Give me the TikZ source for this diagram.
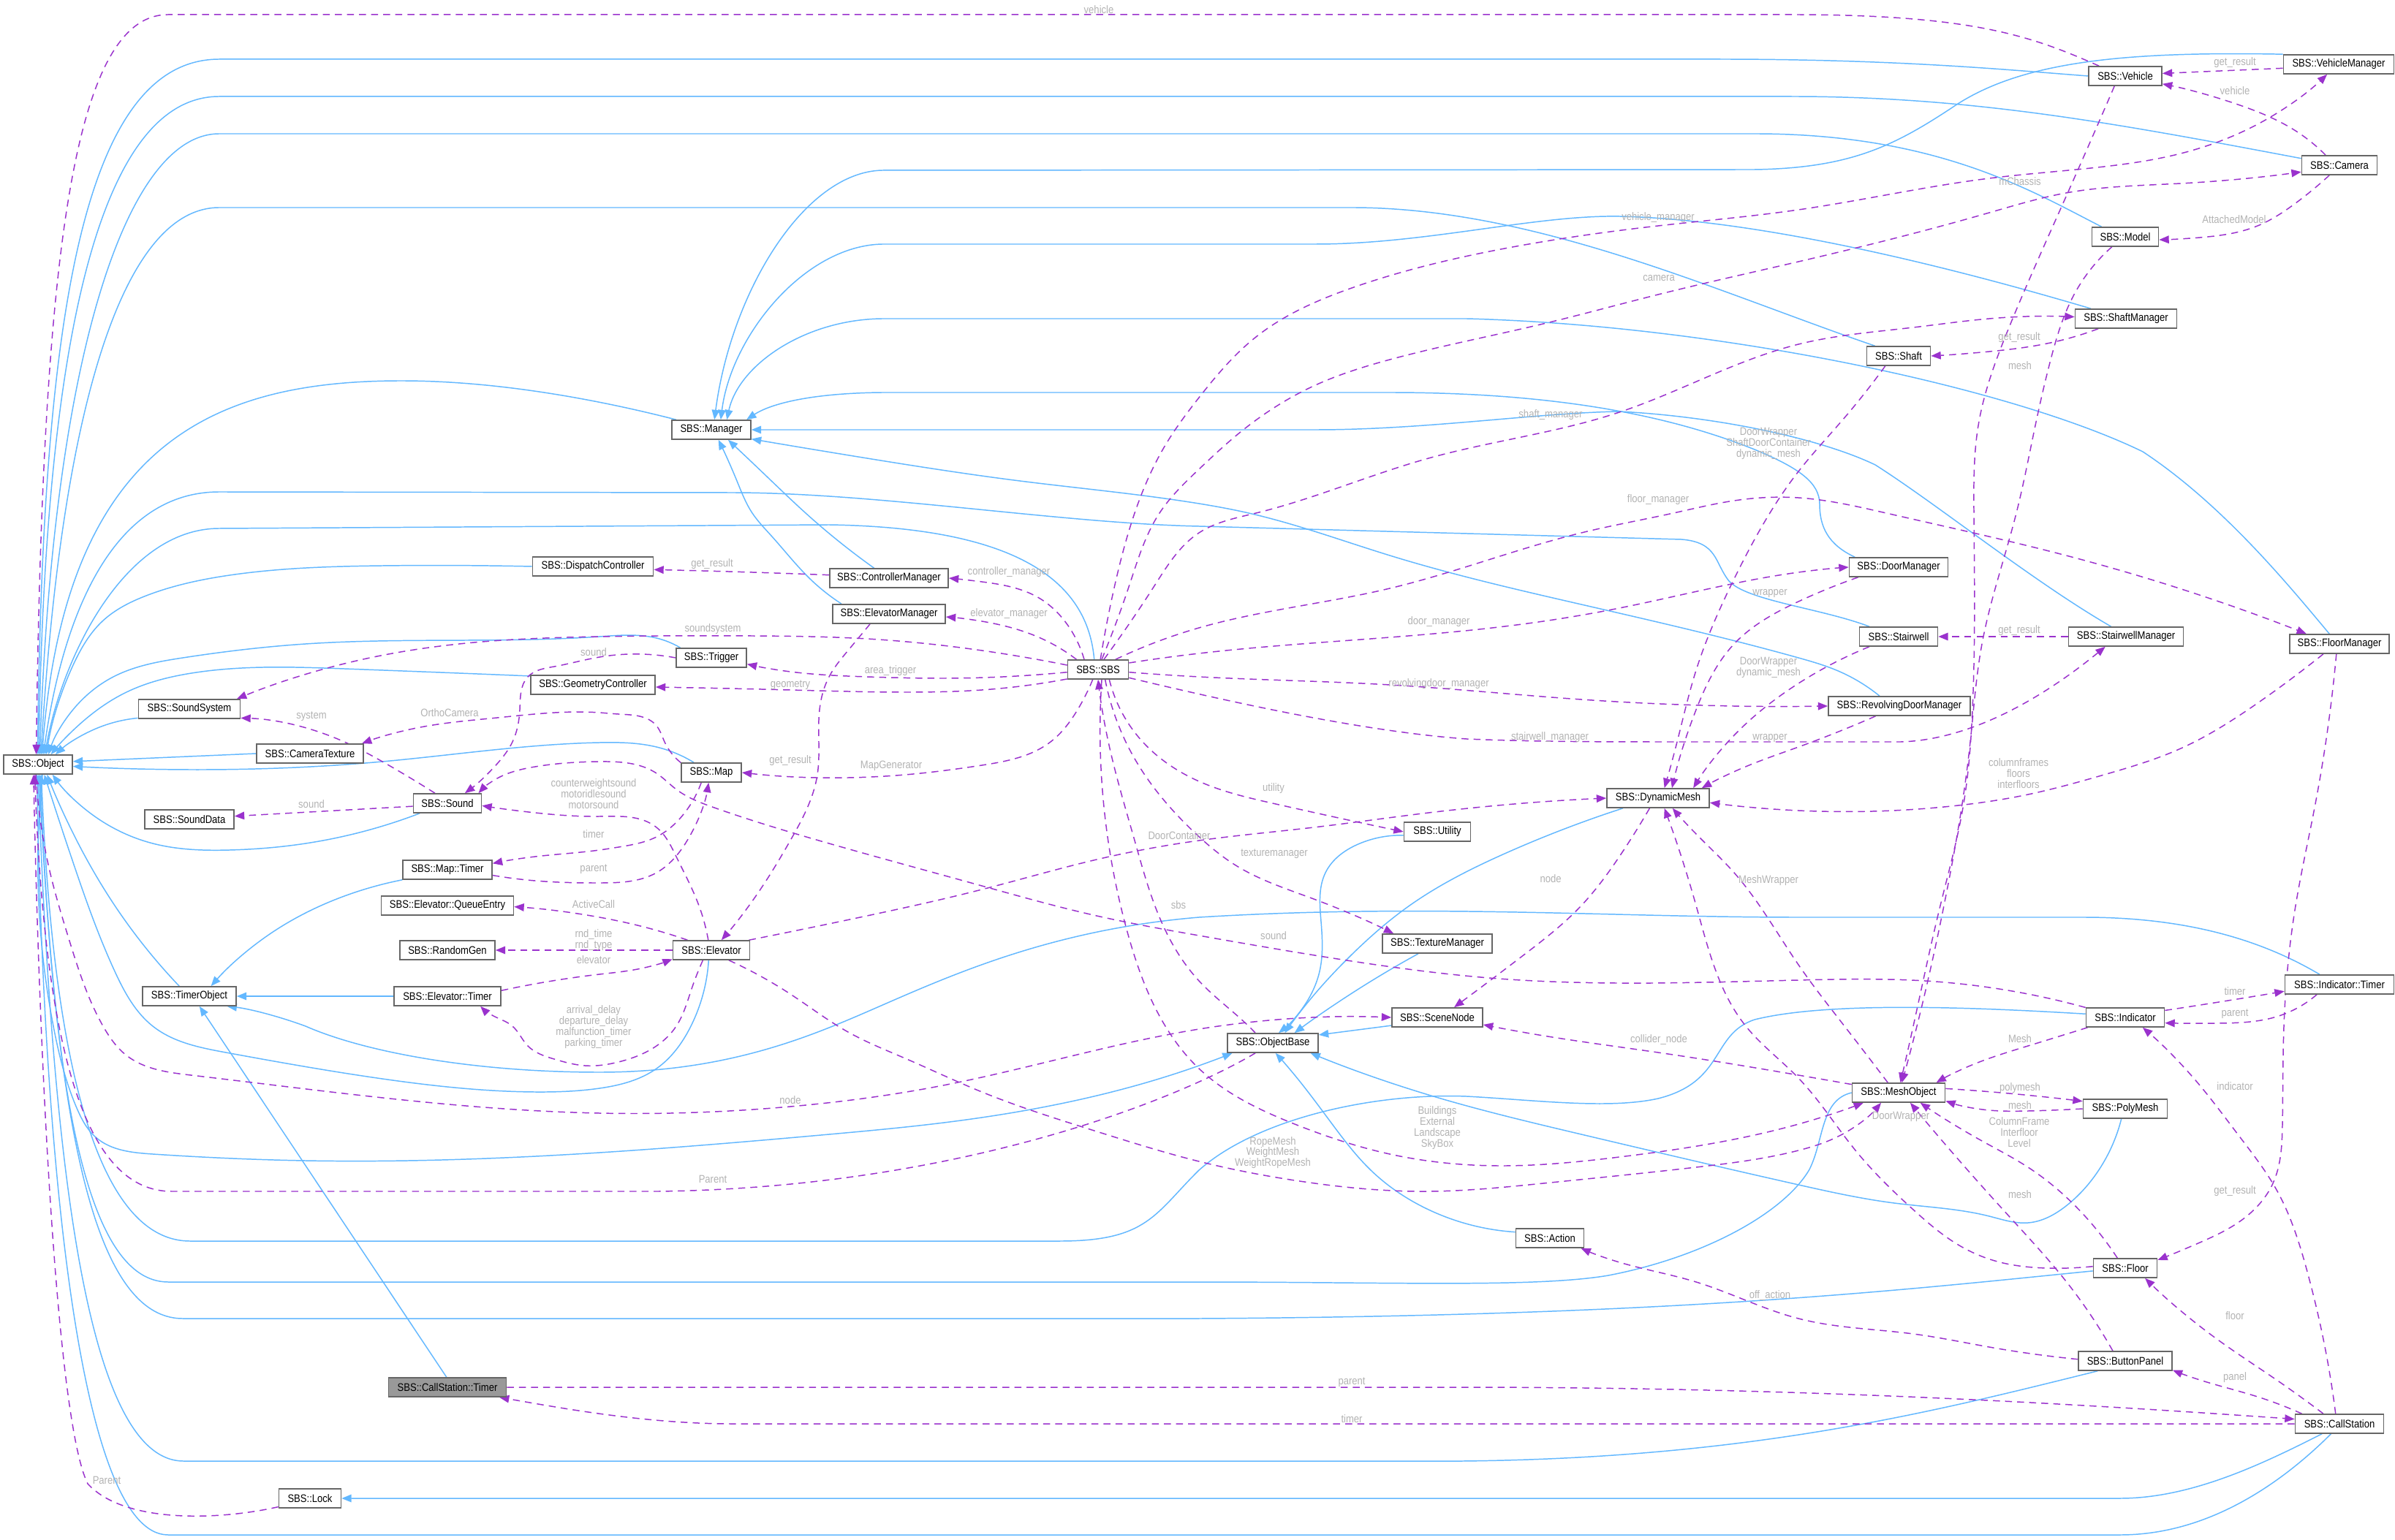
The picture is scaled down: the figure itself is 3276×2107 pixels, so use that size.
\documentclass[tikz,border=0pt]{standalone}
\usepackage{fontspec}
\setmainfont{Liberation Sans}[FakeStretch=0.87]
\usetikzlibrary{arrows.meta,backgrounds,hobby}
\definecolor{inhblue}{HTML}{63B8FF}
\definecolor{usepurple}{HTML}{9A32CD}
\definecolor{lblgray}{HTML}{B3B3B3}
\definecolor{nodeborder}{HTML}{666666}
\definecolor{grayfill}{HTML}{999999}
\newcommand{\dfont}{\fontsize{4.27pt}{4.21pt}\selectfont}
\begin{document}
\begin{tikzpicture}[x=0.01cm,y=-0.01cm,
 classbox/.style={draw=nodeborder, fill=white, line width=0.45pt, minimum height=0.26cm, inner sep=0pt, font=\dfont},
 inhline/.style={draw=inhblue, line width=0.42pt, -{Triangle[length=3.8pt,width=3pt]}},
 useline/.style={draw=usepurple, line width=0.42pt, dash pattern=on 2.7pt off 2pt, -{Triangle[length=3.8pt,width=3pt]}},
 ih/.style={inhline, use Hobby shortcut},
 uh/.style={useline, use Hobby shortcut},
 edgelabel/.style={text=lblgray, font=\dfont, align=center, inner sep=0pt}]
\useasboundingbox (0,0) rectangle (3276,2107);
% nodes
\node[classbox,minimum width=0.94cm] (object) at (52,1046) {SBS::Object};
\node[classbox,minimum width=1.08cm] (manager) at (973,588) {SBS::Manager};
\node[classbox,minimum width=1.00cm] (vehicle) at (2907,104) {SBS::Vehicle};
\node[classbox,minimum width=1.51cm] (vehiclemgr) at (3199,88) {SBS::VehicleManager};
\node[classbox,minimum width=1.03cm] (camera) at (3200,226) {SBS::Camera};
\node[classbox,minimum width=0.91cm] (model) at (2907,324) {SBS::Model};
\node[classbox,minimum width=1.39cm] (shaftmgr) at (2908,436) {SBS::ShaftManager};
\node[classbox,minimum width=0.87cm] (shaft) at (2597,487) {SBS::Shaft};
\node[classbox,minimum width=1.65cm] (dispatch) at (811,775) {SBS::DispatchController};
\node[classbox,minimum width=1.70cm] (geometry) at (811,937) {SBS::GeometryController};
\node[classbox,minimum width=1.39cm] (soundsystem) at (259,970) {SBS::SoundSystem};
\node[classbox,minimum width=1.46cm] (cameratex) at (424,1031) {SBS::CameraTexture};
\node[classbox,minimum width=0.93cm] (sound) at (612,1099) {SBS::Sound};
\node[classbox,minimum width=1.22cm] (sounddata) at (259,1121) {SBS::SoundData};
\node[classbox,minimum width=1.22cm] (maptimer) at (612,1190) {SBS::Map::Timer};
\node[classbox,minimum width=1.81cm] (queueentry) at (612,1239) {SBS::Elevator::QueueEntry};
\node[classbox,minimum width=1.30cm] (randomgen) at (612,1300) {SBS::RandomGen};
\node[classbox,minimum width=1.28cm] (timerobj) at (259,1363) {SBS::TimerObject};
\node[classbox,minimum width=1.46cm] (elevtimer) at (612,1363) {SBS::Elevator::Timer};
\node[classbox,minimum width=1.62cm] (ctrlmgr) at (1216,791) {SBS::ControllerManager};
\node[classbox,minimum width=1.54cm] (elevmgr) at (1216,840) {SBS::ElevatorManager};
\node[classbox,minimum width=0.96cm] (trigger) at (973,900) {SBS::Trigger};
\node[classbox,minimum width=0.83cm] (sbs) at (1502,916) {SBS::SBS};
\node[classbox,minimum width=0.82cm] (map) at (973,1057) {SBS::Map};
\node[classbox,minimum width=1.05cm] (elevator) at (973,1300) {SBS::Elevator};
\node[classbox,minimum width=1.40cm] (dynmesh) at (2268,1092) {SBS::DynamicMesh};
\node[classbox,minimum width=0.91cm] (utility) at (1966,1138) {SBS::Utility};
\node[classbox,minimum width=1.50cm] (texmgr) at (1966,1291) {SBS::TextureManager};
\node[classbox,minimum width=1.24cm] (scenenode) at (1966,1392) {SBS::SceneNode};
\node[classbox,minimum width=1.35cm] (doormgr) at (2597,776) {SBS::DoorManager};
\node[classbox,minimum width=1.07cm] (stairwell) at (2597,871) {SBS::Stairwell};
\node[classbox,minimum width=1.57cm] (stairwellmgr) at (2908,871) {SBS::StairwellManager};
\node[classbox,minimum width=1.36cm] (floormgr) at (3200,881) {SBS::FloorManager};
\node[classbox,minimum width=1.94cm] (revdoormgr) at (2598,966) {SBS::RevolvingDoorManager};
\node[classbox,minimum width=1.49cm] (indtimer) at (3200,1347) {SBS::Indicator::Timer};
\node[classbox,minimum width=1.07cm] (indicator) at (2907,1392) {SBS::Indicator};
\node[classbox,minimum width=1.24cm] (objectbase) at (1741,1427) {SBS::ObjectBase};
\node[classbox,minimum width=0.93cm] (action) at (2120,1694) {SBS::Action};
\node[classbox,minimum width=1.27cm] (meshobj) at (2597,1495) {SBS::MeshObject};
\node[classbox,minimum width=1.15cm] (polymesh) at (2907,1517) {SBS::PolyMesh};
\node[classbox,minimum width=0.87cm] (floor) at (2907,1735) {SBS::Floor};
\node[classbox,minimum width=1.28cm] (buttonpanel) at (2907,1862) {SBS::ButtonPanel};
\node[classbox,minimum width=1.21cm] (callstation) at (3200,1948) {SBS::CallStation};
\node[classbox,minimum width=1.61cm,fill=grayfill] (cstimer) at (612,1898) {SBS::CallStation::Timer};
\node[classbox,minimum width=0.85cm] (lock) at (424,2050) {SBS::Lock};

\begin{pgfonlayer}{background}
\fill[white] (0,0) rectangle (3276,2107);
% ---------- inheritance: into Object (top)
\draw[inhline] (vehicle.west) .. controls (2750,96) and (2600,81) .. (2350,81) -- (300,81) .. controls (110,81) and (58,450) .. (object.92);
\draw[inhline] (camera.170) .. controls (2900,170) and (2700,132) .. (2450,132) -- (300,132) .. controls (140,132) and (62,450) .. (object.86);
\draw[inhline] (model.157) .. controls (2780,262) and (2650,183) .. (2400,183) -- (300,183) .. controls (170,183) and (72,500) .. (object.80);
\draw[inhline] (shaft.157) .. controls (2350,400) and (2100,284) .. (1849,284) -- (300,284) .. controls (170,284) and (85,550) .. (object.74);
\draw[inhline] (manager.164) .. controls (850,555) and (700,521) .. (549,521) .. controls (300,521) and (90,600) .. (object.68);
\draw[inhline] (stairwell.161) .. controls (2490,832) and (2390,822) .. (2365,795) .. controls (2345,770) and (2350,742) .. (2300,738) -- (1640,720) .. controls (1450,716) and (1200,674) .. (1000,674) -- (300,673) .. controls (150,673) and (85,850) .. (object.62);
\draw[inhline] (sbs.111) .. controls (1488,800) and (1400,722) .. (1134,718) -- (300,723) .. controls (170,723) and (85,900) .. (object.56);
\draw[ih] (dispatch.west) .. (523,774) .. (314,787) .. (200,815) .. (140,850) .. (100,910) .. (object.50);
\draw[ih] (trigger.162) .. (898,873) .. (820,871) .. (418,881) .. (250,900) .. (157,925) .. (105,965) .. (object.44);
\draw[ih] (geometry.172) .. (471,915) .. (262,921) .. (173,947) .. (110,990) .. (object.38);
\draw[ih] (soundsystem.-170) .. (131,997) .. (object.30);
\draw[inhline] (cameratex.west) -- (object.5);
\draw[ih] (map.150) .. (898,1022) .. (820,1016) .. (523,1042) .. (262,1053) .. (object.-3);
% into Object (bottom)
\draw[ih] (sound.-160) .. (418,1154) .. (314,1163) .. (209,1154) .. (131,1118) .. (object.-35);
\draw[ih] (timerobj.135) .. (157,1239) .. (105,1150) .. (object.-48);
\draw[ih] (elevator.-105) .. (945,1404) .. (898,1462) .. (820,1489) .. (732,1494) .. (523,1476) .. (309,1440) .. (209,1404) .. (157,1329) .. (100,1180) .. (object.-58);
\draw[inhline] (indicator.175) .. controls (2700,1378) and (2500,1370) .. (2400,1395) .. controls (2340,1415) and (2360,1480) .. (2268,1503) .. controls (2200,1518) and (2100,1505) .. (2006,1500) .. controls (1880,1495) and (1720,1530) .. (1640,1601) .. controls (1580,1660) and (1570,1698) .. (1450,1698) -- (260,1698) .. controls (120,1698) and (70,1400) .. (object.-72);
\draw[inhline] (meshobj.west) .. controls (2490,1505) and (2495,1560) .. (2475,1600) .. controls (2440,1660) and (2330,1720) .. (2200,1745) .. controls (2100,1762) and (1900,1754) .. (1640,1754) -- (230,1754) .. controls (120,1754) and (72,1500) .. (object.-78);
\draw[inhline] (floor.-175) .. controls (2600,1765) and (2300,1800) .. (1640,1804) -- (250,1804) .. controls (120,1804) and (75,1500) .. (object.-84);
\draw[inhline] (buttonpanel.-160) .. controls (2650,1930) and (2400,1995) .. (2000,1999) -- (251,1999) .. controls (120,1999) and (72,1600) .. (object.-90);
\draw[inhline] (callstation.-130) .. controls (3120,2030) and (3020,2100) .. (2900,2100) -- (230,2100) .. controls (110,2100) and (60,1600) .. (object.-96);
\draw[inhline] (callstation.-150) .. controls (3100,2000) and (3000,2050) .. (2900,2050) -- (lock.east);
\draw[ih] (object.-66) .. (73,1404) .. (105,1516) .. (131,1556) .. (209,1579) .. (418,1588) .. (820,1577) .. (1134,1552) .. (1291,1536) .. (1640,1458) .. (objectbase.-166);
% into Manager
\draw[inhline] (vehiclemgr.north west) .. controls (2900,70) and (2760,85) .. (2669,148) .. controls (2590,200) and (2530,230) .. (2400,232) -- (1207,233) .. controls (1100,235) and (1000,400) .. (manager.73);
\draw[inhline] (shaftmgr.164) .. controls (2650,360) and (2400,300) .. (2215,296) .. controls (2100,294) and (1950,334) .. (1800,334) -- (1207,334) .. controls (1100,336) and (1000,460) .. (manager.47);
\draw[inhline] (floormgr.135) .. controls (3130,800) and (3040,690) .. (2931,618) .. controls (2750,530) and (2350,445) .. (2006,436) -- (1207,436) .. controls (1100,437) and (1010,500) .. (manager.33);
\draw[inhline] (doormgr.167) .. controls (2500,745) and (2489,720) .. (2489,690) .. controls (2489,660) and (2460,640) .. (2400,615) .. controls (2300,575) and (2150,537) .. (1900,537) -- (1207,537) .. controls (1100,538) and (1050,555) .. (manager.16);
\draw[inhline] (stairwellmgr.146) .. controls (2780,795) and (2650,690) .. (2565,636) .. controls (2490,600) and (2350,570) .. (2215,563) .. controls (2100,565) and (1950,588) .. (1800,588) -- (manager.east);
\draw[ih] (revdoormgr.153) .. (2512,917) .. (2460,900) .. (2163,827) .. (1901,760) .. (1708,702) .. (1640,689) .. (1395,658) .. (1186,627) .. (manager.-13);
\draw[ih] (elevmgr.168) .. (1108,792) .. (1055,733) .. (1029,702) .. (1008,658) .. (manager.-55);
\draw[ih] (ctrlmgr.146) .. (1102,702) .. (1050,653) .. (manager.-31);
% into TimerObject
\draw[inhline] (elevtimer.west) -- (timerobj.east);
\draw[ih] (maptimer.south west) .. (471,1226) .. (366,1280) .. (timerobj.25);
\draw[inhline] (cstimer.95) -- (timerobj.-45);
\draw[inhline] (indtimer.153) .. controls (3100,1290) and (3000,1255) .. (2850,1255) -- (2460,1255) .. controls (2200,1255) and (1950,1236) .. (1640,1255) .. controls (1400,1275) and (1250,1360) .. (1139,1404) .. controls (1050,1440) and (950,1467) .. (820,1467) .. controls (650,1467) and (500,1440) .. (418,1404) .. controls (380,1390) and (340,1380) .. (timerobj.-15);
% into ObjectBase
\draw[ih] (dynmesh.-164) .. (2058,1168) .. (1928,1239) .. (1849,1306) .. (1790,1370) .. (objectbase.40);
\draw[ih] (utility.-174) .. (1860,1154) .. (1813,1194) .. (1807,1261) .. (1805,1329) .. (1786,1373) .. (objectbase.60);
\draw[ih] (texmgr.-152) .. (1860,1352) .. (objectbase.25);
\draw[inhline] (scenenode.-170) -- (objectbase.10);
\draw[ih] (action.170) .. (1954,1655) .. (1875,1601) .. (1823,1539) .. (1771,1471) .. (objectbase.-75);
\draw[ih] (polymesh.-111) .. (2868,1605) .. (2826,1650) .. (2774,1673) .. (2721,1664) .. (2591,1646) .. (2460,1621) .. (2163,1552) .. (1954,1498) .. (objectbase.-15);
% ---------- usage (dashed)
\draw[useline] (vehicle.159) .. controls (2780,50) and (2700,20) .. (2450,20) -- (230,20) .. controls (100,20) and (58,350) .. (object.100);
\draw[useline] (vehiclemgr.-176) -- (vehicle.4);
\draw[uh] (camera.144) .. (3140,179) .. (3061,143) .. (vehicle.-12);
\draw[uh] (camera.-135) .. (3140,278) .. (3088,309) .. (3009,325) .. (model.-5);
\draw[uh] (sbs.77) .. (1525,800) .. (1552,702) .. (1594,609) .. (1640,544) .. (1718,461) .. (1849,394) .. (2058,340) .. (2268,309) .. (2460,287) .. (2721,244) .. (2878,228) .. (2983,210) .. (3088,170) .. (vehiclemgr.-139);
\draw[uh] (sbs.70) .. (1545,800) .. (1586,702) .. (1640,642) .. (1692,595) .. (1797,528) .. (1901,492) .. (2111,443) .. (2268,403) .. (2460,358) .. (2721,291) .. (2826,264) .. (2983,251) .. (camera.-170);
\draw[uh] (sbs.60) .. (1580,800) .. (1640,729) .. (1718,702) .. (1954,627) .. (2215,564) .. (2460,471) .. (2617,448) .. (2721,436) .. (shaftmgr.178);
\draw[uh] (shaftmgr.-160) .. (2800,470) .. (2721,481) .. (shaft.east);
\draw[uh] (vehicle.-137) .. (2826,269) .. (2748,448) .. (2706,582) .. (2700,702) .. (2698,971) .. (2685,1105) .. (2654,1239) .. (2617,1404) .. (meshobj.80);
\draw[uh] (model.-143) .. (2837,403) .. (2805,492) .. (2784,582) .. (2758,702) .. (2711,881) .. (2695,1015) .. (2659,1239) .. (2622,1404) .. (meshobj.72);
\draw[uh] (shaft.-143) .. (2520,575) .. (2460,645) .. (2419,705) .. (2372,792) .. (2320,917) .. (2294,1015) .. (dynmesh.58);
\draw[uh] (sbs.30) .. (1640,859) .. (1901,805) .. (2163,729) .. (2289,702) .. (2372,685) .. (2460,681) .. (2580,702) .. (2826,760) .. (3035,823) .. (floormgr.163);
\draw[uh] (sbs.12) .. (1640,894) .. (1901,872) .. (2111,850) .. (2215,832) .. (2460,783) .. (doormgr.west);
\draw[uh] (doormgr.-166) .. (2460,823) .. (2372,881) .. (2320,971) .. (dynmesh.36);
\draw[useline] (stairwellmgr.west) -- (stairwell.east);
\draw[uh] (stairwell.-161) .. (2460,935) .. (2372,1006) .. (dynmesh.16);
\draw[uh] (sbs.-5) .. (1640,926) .. (1901,937) .. (2163,957) .. (revdoormgr.west);
\draw[uh] (revdoormgr.-157) .. (2460,1022) .. (2390,1048) .. (dynmesh.13);
\draw[useline] (sbs.-15) .. controls (1640,950) and (1850,1000) .. (2006,1011) .. controls (2100,1015) and (2200,1015) .. (2300,1015) -- (2600,1015) .. controls (2700,1012) and (2800,950) .. (stairwellmgr.-154);
\draw[uh] (floormgr.-148) .. (3088,962) .. (2983,1024) .. (2878,1060) .. (2774,1087) .. (2669,1103) .. (2460,1109) .. (dynmesh.-5);
\draw[uh] (floormgr.-107) .. (3166,1105) .. (3140,1239) .. (3124,1404) .. (3122,1538) .. (3109,1619) .. (3061,1673) .. (3009,1700) .. (floor.14);
\draw[uh] (sbs.144) .. (1463,859) .. (1421,818) .. (1343,796) .. (ctrlmgr.east);
\draw[uh] (sbs.155) .. (1421,872) .. (1343,850) .. (elevmgr.-3);
\draw[uh] (sbs.172) .. (1343,890) .. (1186,874) .. (1029,870) .. (820,871) .. (628,881) .. (471,908) .. (soundsystem.12);
\draw[uh] (sbs.-175) .. (1291,928) .. (1186,926) .. (1081,919) .. (trigger.-10);
\draw[uh] (sbs.-163) .. (1343,944) .. (1238,947) .. (1081,944) .. (geometry.-2);
\draw[uh] (sbs.-118) .. (1474,971) .. (1437,1015) .. (1343,1047) .. (1238,1060) .. (map.east);
\draw[uh] (ctrlmgr.177) .. (1029,783) .. (dispatch.-3);
\draw[uh] (elevmgr.-152) .. (1160,890) .. (1134,926) .. (1121,971) .. (1118,1060) .. (1081,1150) .. (1040,1217) .. (elevator.45);
\draw[uh] (trigger.west) .. (820,899) .. (758,912) .. (722,926) .. (711,971) .. (701,1015) .. (680,1045) .. (sound.30);
\draw[uh] (map.162) .. (909,1015) .. (898,993) .. (846,977) .. (820,975) .. (680,982) .. (575,995) .. (cameratex.11);
\draw[uh] (sound.141) .. (523,1042) .. (471,1015) .. (soundsystem.-10);
\draw[useline] (sound.-175) -- (sounddata.4);
\draw[uh] (elevator.107) .. (956,1239) .. (925,1172) .. (898,1132) .. (820,1117) .. (732,1112) .. (sound.-4);
\draw[uh] (map.-135) .. (935,1114) .. (898,1145) .. (846,1159) .. (820,1163) .. (732,1172) .. (maptimer.8);
\draw[uh] (maptimer.-7) .. (732,1205) .. (820,1208) .. (898,1194) .. (940,1150) .. (map.-105);
\draw[uh] (elevator.157) .. (872,1266) .. (820,1255) .. (queueentry.-1);
\draw[useline] (elevator.west) -- (randomgen.east);
\draw[uh] (elevtimer.6) .. (820,1333) .. (872,1326) .. (elevator.-167);
\draw[uh] (elevator.-130) .. (946,1353) .. (925,1404) .. (898,1431) .. (846,1453) .. (800,1458) .. (758,1449) .. (722,1431) .. (701,1404) .. (675,1390) .. (elevtimer.-17);
\draw[uh] (elevator.15) .. (1186,1253) .. (1343,1217) .. (1500,1176) .. (1640,1150) .. (1797,1132) .. (1954,1112) .. (dynmesh.west);
\draw[uh] (indicator.166) .. (2633,1342) .. (2460,1341) .. (2037,1338) .. (1849,1315) .. (1640,1280) .. (1500,1253) .. (1343,1212) .. (1134,1154) .. (977,1105) .. (925,1080) .. (898,1058) .. (820,1042) .. (732,1049) .. (680,1065) .. (sound.18);
\draw[uh] (sbs.-42) .. (1563,1015) .. (1640,1069) .. (1745,1100) .. (1849,1123) .. (utility.west);
\draw[uh] (sbs.-55) .. (1552,1038) .. (1636,1141) .. (1692,1185) .. (1797,1230) .. (texmgr.167);
\draw[uh] (dynmesh.-130) .. (2215,1172) .. (2163,1239) .. (2085,1306) .. (scenenode.31);
\draw[uh] (meshobj.137) .. (2523,1404) .. (2460,1320) .. (2372,1194) .. (2320,1141) .. (dynmesh.-35);
\draw[uh] (floor.177) .. (2800,1735) .. (2732,1726) .. (2680,1704) .. (2617,1655) .. (2538,1574) .. (2460,1475) .. (2388,1404) .. (2320,1239) .. (dynmesh.-58);
\draw[uh] (objectbase.150) .. (1708,1404) .. (1640,1342) .. (1589,1262) .. (1552,1150) .. (1516,1015) .. (sbs.-90);
\draw[uh] (sbs.-70) .. (1542,1275) .. (1594,1404) .. (1640,1462) .. (1771,1538) .. (1901,1579) .. (2058,1595) .. (2215,1583) .. (2460,1538) .. (meshobj.-164);
\draw[uh] (elevator.-30) .. (1081,1360) .. (1160,1412) .. (1238,1448) .. (1343,1494) .. (1500,1548) .. (1640,1589) .. (1771,1615) .. (1954,1630) .. (2111,1619) .. (2320,1597) .. (2460,1574) .. (2512,1556) .. (meshobj.-150);
\draw[useline] (objectbase.-150) .. controls (1600,1510) and (1300,1625) .. (900,1630) -- (235,1630) .. controls (120,1630) and (62,1450) .. (object.-108);
\draw[uh] (object.-102) .. (70,1200) .. (94,1284) .. (141,1404) .. (173,1444) .. (261,1471) .. (820,1523) .. (1081,1514) .. (1290,1485) .. (1640,1408) .. (scenenode.west);
\draw[uh] (meshobj.170) .. (2460,1471) .. (2268,1440) .. (2111,1417) .. (scenenode.-9);
\draw[uh] (meshobj.5) .. (2748,1496) .. (polymesh.170);
\draw[uh] (polymesh.west) .. (2774,1520) .. (2721,1519) .. (meshobj.-10);
\draw[uh] (floor.128) .. (2852,1664) .. (2774,1597) .. (2711,1561) .. (meshobj.-25);
\draw[uh] (buttonpanel.141) .. (2826,1753) .. (2748,1664) .. (2695,1605) .. (meshobj.-41);
\draw[uh] (buttonpanel.178) .. (2721,1843) .. (2617,1825) .. (2460,1804) .. (2320,1754) .. (2215,1727) .. (action.-18);
\draw[uh] (indicator.-165) .. (2774,1431) .. (2695,1458) .. (meshobj.15);
\draw[uh] (indicator.10) .. (3035,1371) .. (indtimer.-173);
\draw[uh] (indtimer.-156) .. (3114,1391) .. (3035,1400) .. (indicator.-8);
\draw[uh] (callstation.111) .. (3182,1853) .. (3156,1740) .. (3114,1628) .. (3061,1552) .. (3009,1485) .. (indicator.-30);
\draw[uh] (callstation.148) .. (3114,1888) .. (3035,1834) .. (floor.-27);
\draw[uh] (callstation.165) .. (3088,1911) .. (3009,1888) .. (buttonpanel.-11);
\draw[useline] (cstimer.east) -- (2000,1898) .. controls (2500,1898) and (2900,1925) .. (callstation.174);
\draw[useline] (callstation.west) -- (1000,1948) .. controls (880,1948) and (760,1925) .. (cstimer.-11);
\draw[useline] (lock.-165) .. controls (300,2080) and (170,2085) .. (120,2030) .. controls (80,1950) and (55,1500) .. (object.-114);
\end{pgfonlayer}

% ---------- edge labels
\node[edgelabel] (l1) at (1503,13) {vehicle};
\node[edgelabel] (l2) at (3057,86) {get\_result};
\node[edgelabel] (l3) at (3057,124) {vehicle};
\node[edgelabel] (l4) at (3056,300) {AttachedModel};
\node[edgelabel] (l5) at (2763,248) {mChassis};
\node[edgelabel] (l6) at (2268,298) {vehicle\_manager};
\node[edgelabel] (l7) at (2269,381) {camera};
\node[edgelabel] (l8) at (2762,462) {get\_result};
\node[edgelabel] (l9) at (2763,500) {mesh};
\node[edgelabel] (l10) at (2121,568) {shaft\_manager};
\node[edgelabel] (l11) at (2419,607) {DoorWrapper\\ShaftDoorContainer\\dynamic\_mesh};
\node[edgelabel] (l12) at (2268,684) {floor\_manager};
\node[edgelabel] (l13) at (2421,812) {wrapper};
\node[edgelabel] (l14) at (1968,851) {door\_manager};
\node[edgelabel] (l15) at (2762,863) {get\_result};
\node[edgelabel] (l16) at (2419,913) {DoorWrapper\\dynamic\_mesh};
\node[edgelabel] (l17) at (1968,936) {revolvingdoor\_manager};
\node[edgelabel] (l18) at (2120,1009) {stairwell\_manager};
\node[edgelabel] (l19) at (2421,1010) {wrapper};
\node[edgelabel] (l20) at (2761,1058) {columnframes\\floors\\interfloors};
\node[edgelabel] (l21) at (1380,783) {controller\_manager};
\node[edgelabel] (l22) at (1380,840) {elevator\_manager};
\node[edgelabel] (l23) at (974,772) {get\_result};
\node[edgelabel] (l24) at (975,861) {soundsystem};
\node[edgelabel] (l25) at (1218,918) {area\_trigger};
\node[edgelabel] (l26) at (1081,937) {geometry};
\node[edgelabel] (l27) at (1081,1041) {get\_result};
\node[edgelabel] (l28) at (1219,1048) {MapGenerator};
\node[edgelabel] (l29) at (812,892) {sound};
\node[edgelabel] (l30) at (615,975) {OrthoCamera};
\node[edgelabel] (l31) at (426,980) {system};
\node[edgelabel] (l32) at (426,1100) {sound};
\node[edgelabel] (l33) at (812,1086) {counterweightsound\\motoridlesound\\motorsound};
\node[edgelabel] (l34) at (812,1141) {timer};
\node[edgelabel] (l35) at (812,1189) {parent};
\node[edgelabel] (l36) at (812,1237) {ActiveCall};
\node[edgelabel] (l37) at (812,1286) {rnd\_time\\rnd\_type};
\node[edgelabel] (l38) at (812,1313) {elevator};
\node[edgelabel] (l39) at (812,1405) {arrival\_delay\\departure\_delay\\malfunction\_timer\\parking\_timer};
\node[edgelabel] (l40) at (1613,1143) {DoorContainer};
\node[edgelabel] (l41) at (1742,1079) {utility};
\node[edgelabel] (l42) at (1743,1168) {texturemanager};
\node[edgelabel] (l43) at (2121,1202) {node};
\node[edgelabel] (l44) at (2419,1205) {MeshWrapper};
\node[edgelabel] (l45) at (1742,1280) {sound};
\node[edgelabel] (l46) at (1612,1238) {sbs};
\node[edgelabel] (l47) at (1081,1505) {node};
\node[edgelabel] (l48) at (975,1613) {Parent};
\node[edgelabel] (l49) at (1966,1543) {Buildings\\External\\Landscape\\SkyBox};
\node[edgelabel] (l50) at (1741,1577) {RopeMesh\\WeightMesh\\WeightRopeMesh};
\node[edgelabel] (l51) at (2269,1423) {collider\_node};
\node[edgelabel] (l52) at (2763,1421) {Mesh};
\node[edgelabel] (l53) at (2763,1489) {polymesh};
\node[edgelabel] (l54) at (2763,1512) {mesh};
\node[edgelabel] (l55) at (2600,1528) {DoorWrapper};
\node[edgelabel] (l56) at (2762,1549) {ColumnFrame\\Interfloor\\Level};
\node[edgelabel] (l57) at (2763,1634) {mesh};
\node[edgelabel] (l58) at (3057,1356) {timer};
\node[edgelabel] (l59) at (3057,1387) {parent};
\node[edgelabel] (l60) at (3057,1486) {indicator};
\node[edgelabel] (l61) at (3057,1630) {get\_result};
\node[edgelabel] (l62) at (3057,1800) {floor};
\node[edgelabel] (l63) at (3057,1885) {panel};
\node[edgelabel] (l64) at (2421,1773) {off\_action};
\node[edgelabel] (l65) at (1849,1891) {parent};
\node[edgelabel] (l66) at (1849,1941) {timer};
\node[edgelabel] (l67) at (146,2025) {Parent};
\end{tikzpicture}
\end{document}
